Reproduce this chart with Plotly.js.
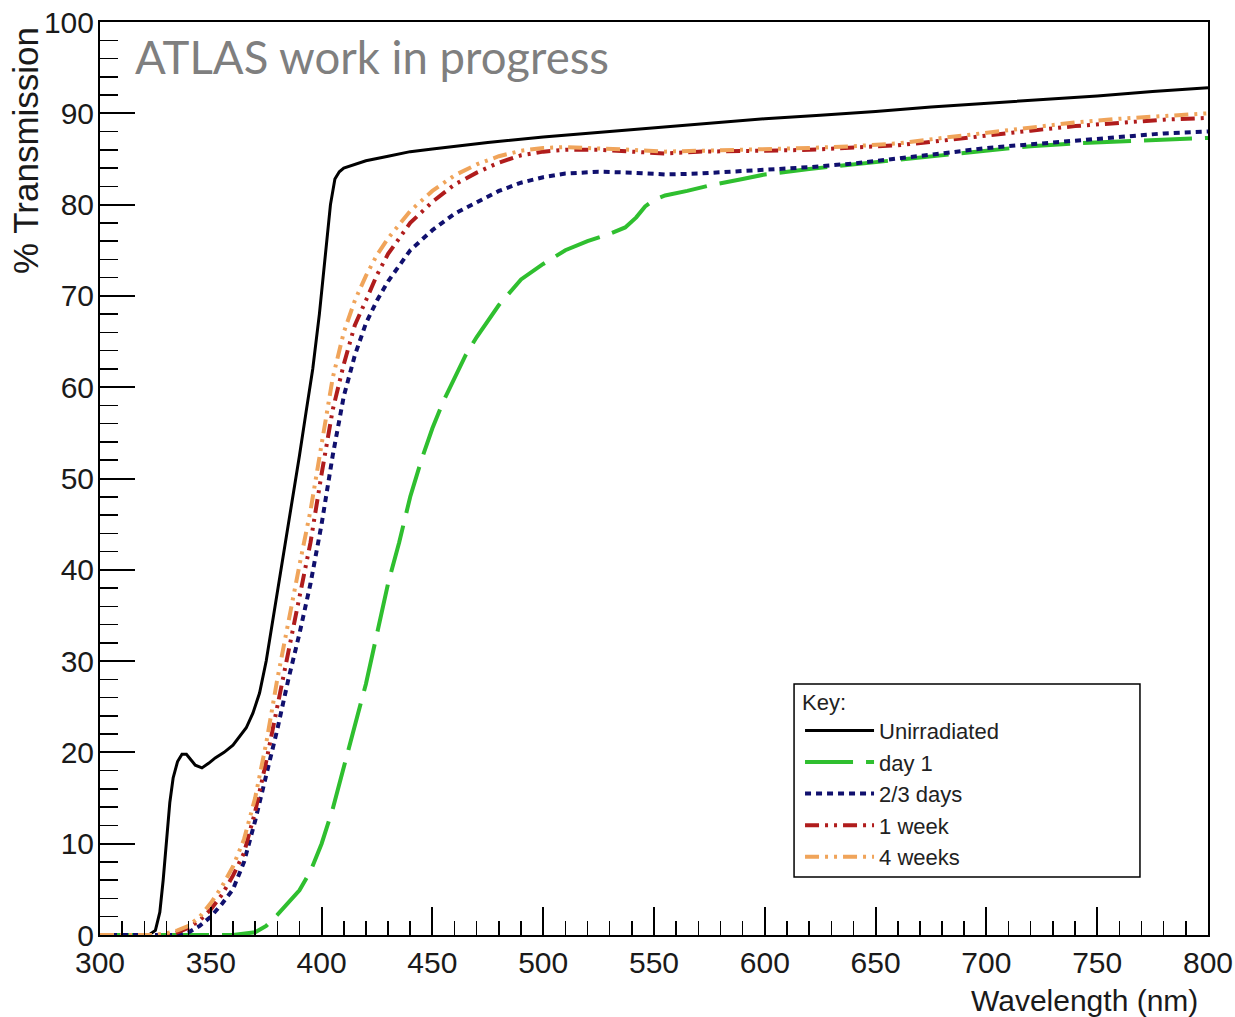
<!DOCTYPE html>
<html>
<head>
<meta charset="utf-8">
<script src="https://cdn.plot.ly/plotly-3.0.1.min.js"></script>
<style>html,body{margin:0;padding:0;background:#fff;}#chart{width:1235px;height:1017px;}</style>
</head>
<body>
<div id="chart"></div>
<script>
// Series names
const seriesNames = ["Unirradiated", "day 1", "2/3 days", "1 week", "4 weeks"];

// Unirradiated
const wlUnirr = [300,322,325,327,328.5,330,331.5,333,335,337,339,341,343,346,349,352,356,360,363,366,369,372,375,378,381,384,387,390,393,396,399,401,403,404,406,408,410,415,420,430,440,450,460,475,500,525,550,575,600,625,650,675,700,725,750,775,800];
const tUnirr  = [0,0,0.5,2.5,6,10.5,14.5,17.2,19.0,19.8,19.8,19.2,18.6,18.3,18.8,19.4,20.0,20.8,21.7,22.7,24.3,26.5,30.0,34.5,38.5,43.0,47.8,52.5,57.3,62.0,68.0,73.0,77.5,80.0,82.8,83.6,84.0,84.4,84.8,85.3,85.8,86.1,86.4,86.8,87.4,87.9,88.4,88.9,89.4,89.8,90.2,90.7,91.1,91.5,91.9,92.4,92.8];

// day 1
const wlDay1 = [300,360,370,375,380,385,390,395,400,405,410,415,420,425,430,435,440,445,450,455,460,465,470,480,490,500,510,520,530,537,542,546,550,555,565,575,590,600,620,640,660,680,700,720,740,760,780,800];
const tDay1  = [0,0,0.3,1.0,2.2,3.5,4.9,7.0,10.0,13.8,18.5,23.0,27.5,33.0,38.5,43.0,48.0,52.0,55.5,58.5,61.0,63.5,65.5,69.0,71.8,73.5,75.0,76.0,76.8,77.5,78.6,79.8,80.5,81.0,81.5,82.1,82.8,83.3,83.9,84.4,84.9,85.5,86.0,86.4,86.7,86.9,87.1,87.3];

// 2/3 days
const wlDays23 = [300,335,340,345,350,355,360,365,370,375,380,385,390,395,400,405,410,415,420,425,430,440,450,460,470,480,490,500,510,525,540,555,570,585,600,620,640,660,680,700,720,740,760,780,800];
const tDays23  = [0,0,0.3,1.0,2.0,3.4,5.0,8.0,12.5,17.5,22.5,28.0,33.0,38.5,45.0,52.5,59.0,63.5,67.0,69.5,71.6,75.0,77.2,79.0,80.3,81.5,82.4,83.0,83.4,83.6,83.5,83.3,83.4,83.6,83.9,84.1,84.5,85.0,85.6,86.2,86.6,87.1,87.5,87.8,88.0];

// 1 week
const wlWeek1 = [300,330,335,340,345,350,355,360,365,370,375,380,385,390,395,400,405,410,415,420,425,430,440,450,460,470,480,490,500,510,525,540,555,570,585,600,620,640,660,680,700,720,740,760,780,800];
const tWeek1  = [0,0,0.3,0.8,1.6,2.8,4.4,6.5,9.0,13.5,19.0,25.0,31.5,37.0,43.0,50.5,57.5,62.5,66.8,69.5,72.3,74.6,78.0,80.3,82.2,83.5,84.6,85.4,85.8,86.0,86.0,85.8,85.6,85.8,85.8,85.9,86.0,86.2,86.5,87.0,87.6,88.1,88.6,89.0,89.3,89.5];

// 4 weeks
const wlWeek4 = [300,325,330,335,340,345,350,355,360,365,370,375,380,385,390,395,400,405,410,415,420,425,430,440,450,460,470,480,490,500,510,525,540,555,570,585,600,620,640,660,680,700,720,740,760,780,800];
const tWeek4  = [0,0,0.2,0.5,1.0,2.0,3.5,5.3,7.5,10.5,15.0,21.0,28.0,34.5,40.5,46.5,54.0,61.0,66.0,69.5,72.2,74.5,76.3,79.3,81.5,83.2,84.4,85.3,85.9,86.2,86.3,86.2,86.0,85.8,85.9,86.0,86.0,86.2,86.4,86.7,87.3,87.9,88.5,89.0,89.4,89.7,90.0];

// Axis ticks
const xTickVals = [300,350,400,450,500,550,600,650,700,750,800];
const yTickVals = [0,10,20,30,40,50,60,70,80,90,100];

const traces = [
  {x: wlUnirr, y: tUnirr, name: seriesNames[0], line: {color: '#000000', width: 3}},
  {x: wlDay1, y: tDay1, name: seriesNames[1], line: {color: '#2fbf2f', width: 4, dash: '48px,13px'}},
  {x: wlDays23, y: tDays23, name: seriesNames[2], line: {color: '#10106e', width: 4, dash: '6px,5px'}},
  {x: wlWeek1, y: tWeek1, name: seriesNames[3], line: {color: '#b01c1c', width: 4, dash: '14px,6px,3px,6px,3px,6px'}},
  {x: wlWeek4, y: tWeek4, name: seriesNames[4], line: {color: '#f0a45a', width: 4, dash: '14px,6px,3px,6px,3px,6px'}}
].map(t => Object.assign({type: 'scatter', mode: 'lines'}, t));

const tickFont = {family: 'Liberation Sans, Arial, sans-serif', size: 30, color: '#1a1a1a'};
const legFont = {family: 'Liberation Sans, Arial, sans-serif', size: 22, color: '#222'};

const layout = {
  width: 1235, height: 1017,
  margin: {l: 100, r: 27, t: 22, b: 82},
  paper_bgcolor: '#ffffff', plot_bgcolor: '#ffffff',
  showlegend: true,
  xaxis: {
    range: [300, 800], tickvals: xTickVals, ticktext: xTickVals.map(String),
    ticks: 'inside', ticklen: 28, tickwidth: 2, tickcolor: '#000',
    minor: {ticks: 'inside', ticklen: 14, tickwidth: 1.5, tickcolor: '#000', dtick: 10, tick0: 300},
    showline: true, mirror: true, linecolor: '#000', linewidth: 2,
    showgrid: false, zeroline: false, tickfont: tickFont
  },
  yaxis: {
    range: [0, 100], tickvals: yTickVals, ticktext: yTickVals.map(String),
    ticks: 'inside', ticklen: 35, tickwidth: 2, tickcolor: '#000',
    minor: {ticks: 'inside', ticklen: 18, tickwidth: 1.5, tickcolor: '#000', dtick: 2, tick0: 0},
    showline: true, mirror: true, linecolor: '#000', linewidth: 2,
    showgrid: false, zeroline: false, tickfont: tickFont, ticklabelstandoff: -2
  },
  legend: {
    x: 0.6318, y: 0.2782, xanchor: 'left', yanchor: 'top',
    bgcolor: 'rgba(0,0,0,0)', borderwidth: 0,
    font: legFont,
    title: {text: 'Key:', font: legFont},
    itemwidth: 69, tracegroupgap: 0
  },
  shapes: [
    {type: 'rect', xref: 'paper', yref: 'paper', x0: 0.6264, x1: 0.9386, y0: 0.0635, y1: 0.2749,
     line: {color: '#000', width: 1.5}, fillcolor: 'rgba(0,0,0,0)'}
  ],
  annotations: [
    {text: 'ATLAS work in progress', xref: 'paper', yref: 'paper', x: 0.0298, y: 0.9617,
     xanchor: 'left', yanchor: 'middle', showarrow: false,
     font: {family: 'Lato, sans-serif', size: 45.5, color: '#7f7f7f'}},
    {text: 'Wavelength (nm)', xref: 'paper', yref: 'paper', x: 0.9928, y: -0.0712,
     xanchor: 'right', yanchor: 'middle', showarrow: false,
     font: {family: 'Liberation Sans, Arial, sans-serif', size: 30, color: '#1a1a1a'}},
    {text: '% Transmission', xref: 'paper', yref: 'paper', x: -0.0677, y: 0.8598,
     xanchor: 'center', yanchor: 'middle', textangle: -90, showarrow: false,
     font: {family: 'Liberation Sans, Arial, sans-serif', size: 35, color: '#1a1a1a'}}
  ]
};

Plotly.newPlot('chart', traces, layout, {staticPlot: true, displayModeBar: false});
</script>
</body>
</html>
